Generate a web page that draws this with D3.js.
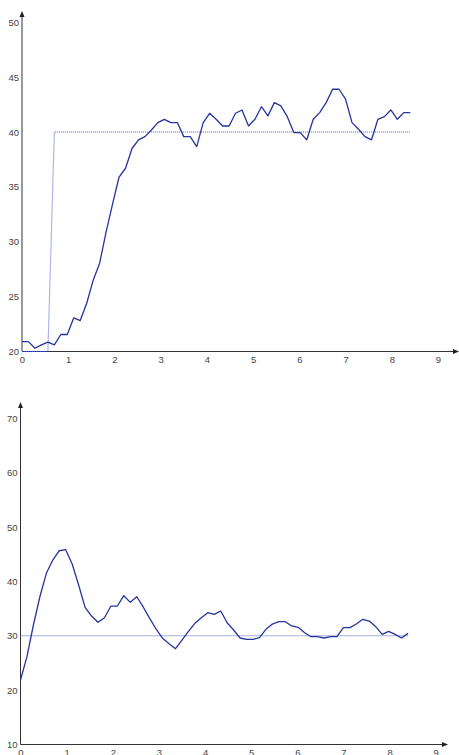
<!DOCTYPE html>
<html>
<head>
<meta charset="utf-8">
<script src="https://cdn.jsdelivr.net/npm/d3@7"></script>
<style>
  body { margin: 0; background: #fff; }
  svg { display: block; }
  .tick text { font-family: "Liberation Sans", Arial, sans-serif; font-size: 9.5px; fill: #444; }
</style>
</head>
<body>
<div id="chart"></div>
<script>
// sample times (s)
var time = [0, 0.14, 0.28, 0.42, 0.56, 0.70, 0.84, 0.98, 1.12, 1.26, 1.40, 1.54, 1.68, 1.82, 1.96,
  2.10, 2.24, 2.38, 2.52, 2.66, 2.80, 2.94, 3.08, 3.22, 3.36, 3.50, 3.64, 3.78, 3.92, 4.06,
  4.20, 4.34, 4.48, 4.62, 4.76, 4.90, 5.04, 5.18, 5.32, 5.46, 5.60, 5.74, 5.88, 6.02, 6.16,
  6.30, 6.44, 6.58, 6.72, 6.86, 7.00, 7.14, 7.28, 7.42, 7.56, 7.70, 7.84, 7.98, 8.12, 8.26, 8.40];

// top chart
var topValues = [20.9, 20.9, 20.3, 20.6, 20.85, 20.6, 21.55, 21.55, 23.07, 22.82, 24.4, 26.5, 28.05, 30.9, 33.45,
  35.9, 36.7, 38.5, 39.28, 39.58, 40.19, 40.86, 41.16, 40.86, 40.86, 39.58, 39.58, 38.67, 40.86, 41.71,
  41.16, 40.55, 40.55, 41.71, 42.01, 40.55, 41.16, 42.31, 41.47, 42.68, 42.38, 41.4, 39.95, 39.95, 39.28,
  41.16, 41.77, 42.68, 43.9, 43.9, 42.99, 40.86, 40.25, 39.58, 39.28, 41.16, 41.4, 42.01, 41.16, 41.77, 41.77];
var topSetpoint = [20, 20, 20, 20, 20, 40, 40, 40, 40, 40, 40, 40, 40, 40, 40,
  40, 40, 40, 40, 40, 40, 40, 40, 40, 40, 40, 40, 40, 40, 40,
  40, 40, 40, 40, 40, 40, 40, 40, 40, 40, 40, 40, 40, 40, 40,
  40, 40, 40, 40, 40, 40, 40, 40, 40, 40, 40, 40, 40, 40, 40, 40];
var topYTicks = [20, 25, 30, 35, 40, 45, 50];

// bottom chart
var bottomValues = [21.86, 26.15, 31.98, 37.18, 41.49, 43.93, 45.64, 45.83, 43.2, 39.34, 35.23, 33.63, 32.48, 33.32, 35.47,
  35.47, 37.37, 36.15, 37.18, 35.3, 33.2, 31.24, 29.53, 28.54, 27.62, 29.2, 30.82, 32.29, 33.32, 34.24,
  33.94, 34.55, 32.4, 31.06, 29.59, 29.35, 29.35, 29.65, 31.19, 32.16, 32.59, 32.59, 31.8, 31.55, 30.56,
  29.83, 29.83, 29.59, 29.83, 29.83, 31.49, 31.49, 32.16, 33.02, 32.71, 31.67, 30.26, 30.82, 30.26, 29.59, 30.44];
var bottomSetpoint = [30, 30, 30, 30, 30, 30, 30, 30, 30, 30, 30, 30, 30, 30, 30,
  30, 30, 30, 30, 30, 30, 30, 30, 30, 30, 30, 30, 30, 30, 30,
  30, 30, 30, 30, 30, 30, 30, 30, 30, 30, 30, 30, 30, 30, 30,
  30, 30, 30, 30, 30, 30, 30, 30, 30, 30, 30, 30, 30, 30, 30, 30];
var bottomYTicks = [10, 20, 30, 40, 50, 60, 70];

var xTicks = [0, 1, 2, 3, 4, 5, 6, 7, 8, 9];

var width = 459, height = 755;

var svg = d3.select("#chart").append("svg")
    .attr("width", width)
    .attr("height", height);

function drawPanel(opt) {
    var x = d3.scaleLinear().domain([0, 9]).range([opt.x0, opt.x9]);
    var y = d3.scaleLinear().domain(opt.yDomain).range([opt.yBottom, opt.yTop]);

    var g = svg.append("g");

    // axis lines with arrow heads
    g.append("line")
        .attr("x1", opt.yAxisX).attr("x2", opt.yAxisX)
        .attr("y1", opt.yBottom).attr("y2", opt.yArrow + 4)
        .attr("stroke", "#333").attr("stroke-width", 1);
    g.append("path")
        .attr("d", "M" + opt.yAxisX + "," + opt.yArrow + "l-2.5,6h5z")
        .attr("fill", "#222");

    g.append("line")
        .attr("x1", opt.yAxisX).attr("x2", opt.xArrow - 4)
        .attr("y1", opt.xAxisY).attr("y2", opt.xAxisY)
        .attr("stroke", "#333").attr("stroke-width", 1);
    g.append("path")
        .attr("d", "M" + opt.xArrow + "," + opt.xAxisY + "l-6,-2.5v5z")
        .attr("fill", "#222");

    var xAxis = d3.axisBottom(x).tickValues(xTicks).tickSize(0).tickPadding(5);
    var yAxis = d3.axisLeft(y).tickValues(opt.yTicks).tickSize(0).tickPadding(3);

    g.append("g")
        .attr("transform", "translate(0," + opt.xAxisY + ")")
        .call(xAxis)
        .call(function(a) { a.select(".domain").remove(); });

    g.append("g")
        .attr("transform", "translate(" + opt.yAxisX + ",0)")
        .call(yAxis)
        .call(function(a) { a.select(".domain").remove(); });

    var line = d3.line()
        .x(function(d, i) { return x(time[i]); })
        .y(function(d) { return y(d); });

    // setpoint
    g.append("path")
        .datum(opt.setpoint)
        .attr("fill", "none")
        .attr("stroke", "#4050c8")
        .attr("stroke-opacity", 0.9)
        .attr("stroke-width", 1.1)
        .attr("stroke-dasharray", "1,1")
        .attr("d", line);

    // measured
    g.append("path")
        .datum(opt.values)
        .attr("fill", "none")
        .attr("stroke", "#26349c")
        .attr("stroke-width", 1.3)
        .attr("stroke-linejoin", "round")
        .attr("d", line);
}

drawPanel({
    values: topValues, setpoint: topSetpoint, yTicks: topYTicks,
    yDomain: [20, 50],
    x0: 22, x9: 438, yAxisX: 22,
    yBottom: 351.5, yTop: 22.3, xAxisY: 351.5,
    yArrow: 11, xArrow: 459
});

drawPanel({
    values: bottomValues, setpoint: bottomSetpoint, yTicks: bottomYTicks,
    yDomain: [10, 70],
    x0: 20.5, x9: 435.7, yAxisX: 20.5,
    yBottom: 744.5, yTop: 418.3, xAxisY: 744.5,
    yArrow: 402, xArrow: 448
});
</script>
</body>
</html>
